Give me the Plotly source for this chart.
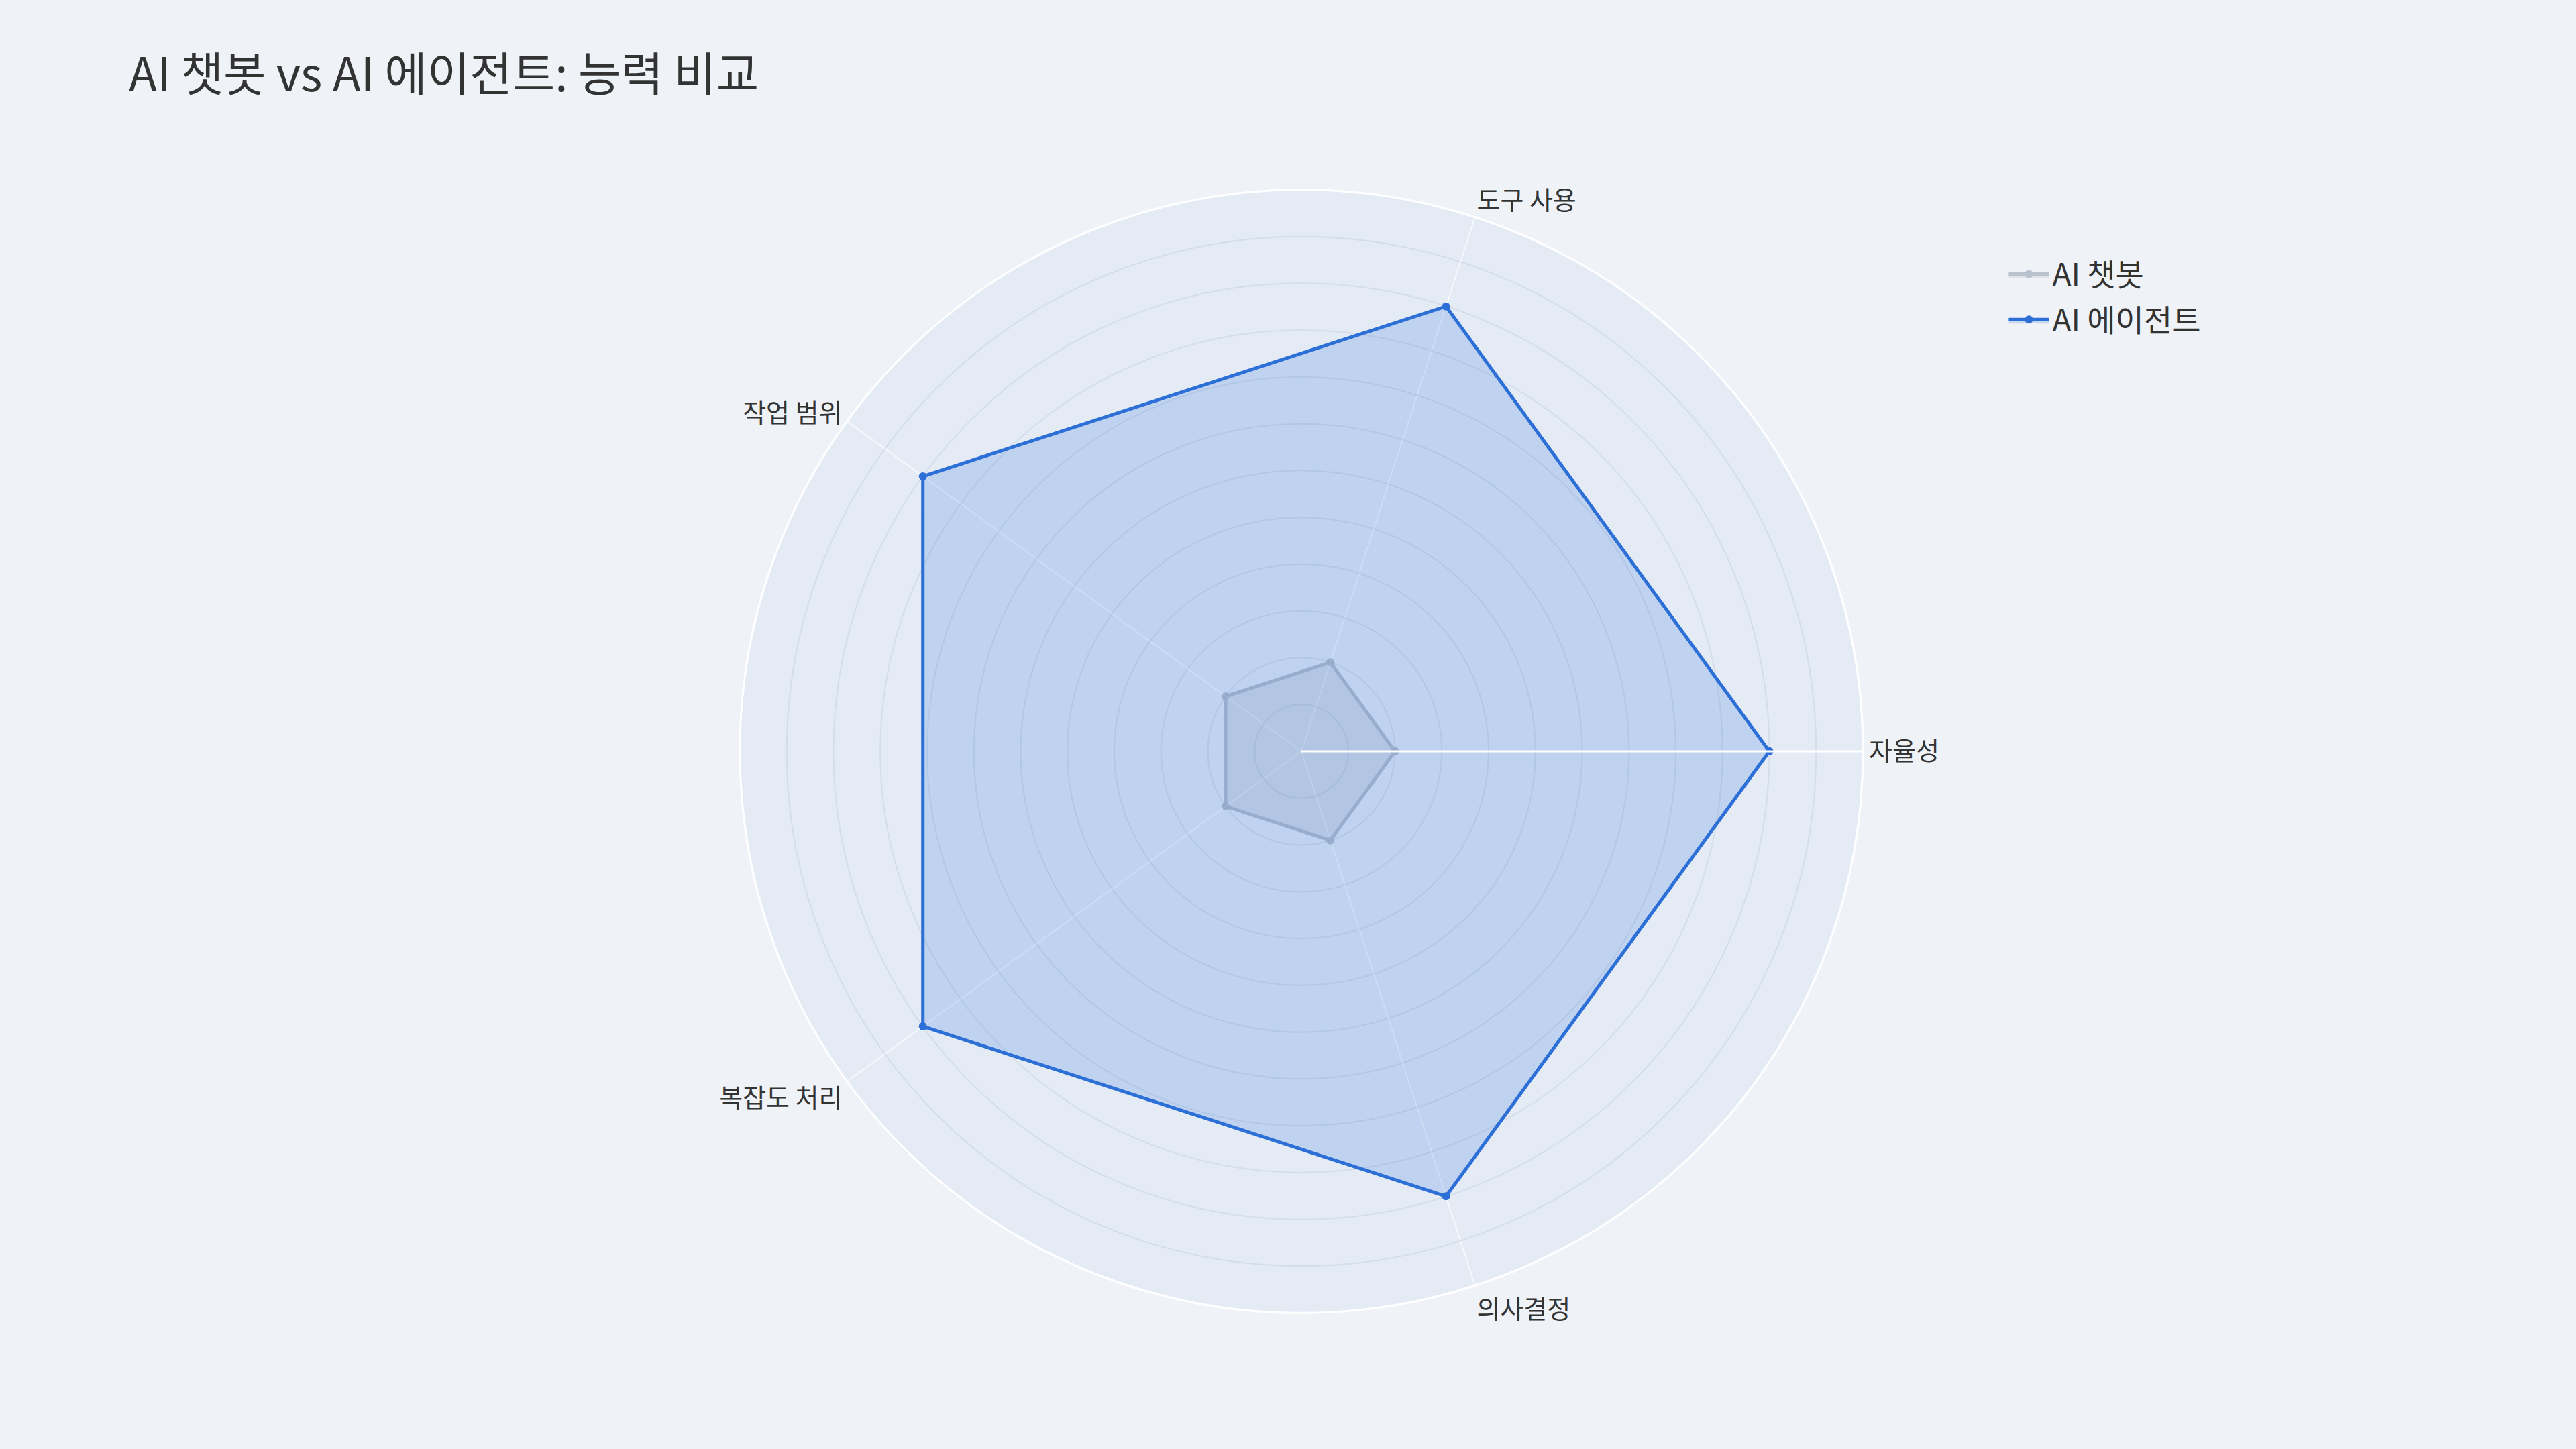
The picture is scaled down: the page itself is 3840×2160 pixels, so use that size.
import plotly.graph_objects as go

# ---- data ----
categories = ["자율성", "도구 사용", "작업 범위", "복잡도 처리", "의사결정"]
chatbot_values = [2, 2, 2, 2, 2]
agent_values = [10, 10, 10, 10, 10]
series_names = ["AI 챗봇", "AI 에이전트"]
title_text = "AI 챗봇 vs AI 에이전트: 능력 비교"
radial_range = [0, 12]


def closed(seq):
    seq = list(seq)
    return seq + seq[:1]


FONT = "Noto Sans CJK KR, Noto Sans, sans-serif"
TEXT = "#333333"
W, H = 3840, 2160

fig = go.Figure()
fig.add_trace(go.Scatterpolar(
    r=closed(chatbot_values), theta=closed(categories), name=series_names[0],
    legendgroup="g1",
    mode="lines+markers", fill="toself",
    fillcolor="rgba(120,135,155,0.33)",
    line=dict(color="rgb(120,135,155)", width=5),
    marker=dict(size=12, color="rgb(120,135,155)"),
    opacity=0.45,
))
fig.add_trace(go.Scatterpolar(
    r=closed(agent_values), theta=closed(categories), name=series_names[1],
    legendgroup="g2",
    mode="lines+markers", fill="toself",
    fillcolor="rgba(44,111,214,0.2)",
    line=dict(color="#2c6fd6", width=5),
    marker=dict(size=12, color="#2c6fd6"),
))

fig.update_layout(
    width=W, height=H, autosize=False,
    margin=dict(l=0, r=0, t=0, b=0),
    paper_bgcolor="#eff3f8",
    plot_bgcolor="#eff3f8",
    font=dict(family=FONT, color=TEXT, size=40),
    title=dict(text=title_text, x=0.05, xanchor="left", y=1 - 112 / H,
               yanchor="middle", font=dict(family=FONT, size=69, color=TEXT)),
    legend=dict(x=0.7785, y=1 - 372 / H, xanchor="left", yanchor="top",
                itemwidth=60, tracegroupgap=5,
                bgcolor="rgba(0,0,0,0)", font=dict(family=FONT, size=46, color=TEXT)),
    polar=dict(
        domain=dict(x=[0.28724, 0.72318], y=[0.09398, 0.86898]),
        bgcolor="#e4ebf5",
        radialaxis=dict(range=radial_range, dtick=1, showticklabels=False, ticks="",
                        gridcolor="rgba(120,140,170,0.15)", gridwidth=2,
                        showline=True, linecolor="white", linewidth=3),
        angularaxis=dict(direction="counterclockwise", rotation=0,
                         gridcolor="rgba(255,255,255,0.7)", gridwidth=2,
                         showline=True, linecolor="white", linewidth=3,
                         ticks="", tickfont=dict(family=FONT, size=38, color=TEXT)),
    ),
)

fig.write_html(
    "out.html",
    config={"displayModeBar": False},
    post_script="document.body.style.margin='0';document.body.style.overflow='hidden';",
)
